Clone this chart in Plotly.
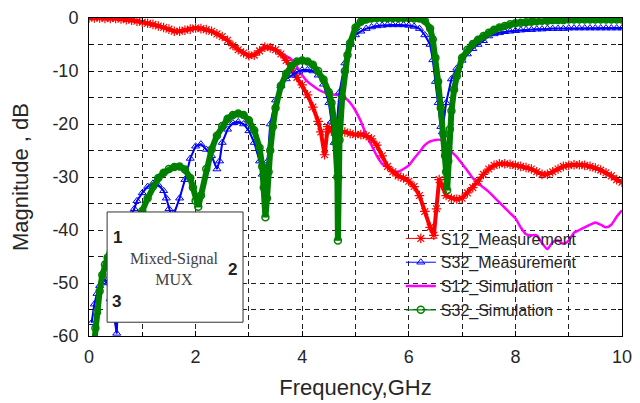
import plotly.graph_objects as go

# ---------------- data ----------------
s12_meas_f = [0.0, 0.1, 0.2, 0.3, 0.4, 0.5, 0.6, 0.7, 0.8, 0.9, 1.0, 1.1, 1.2, 1.3, 1.4, 1.5, 1.6, 1.7, 1.8, 1.9,
              2.0, 2.1, 2.2, 2.3, 2.4, 2.5, 2.6, 2.7, 2.8, 2.9, 3.0, 3.1, 3.2, 3.3, 3.4, 3.5, 3.6, 3.7, 3.8, 3.9,
              4.0, 4.1, 4.2, 4.3, 4.35, 4.42, 4.48, 4.55, 4.6, 4.7, 4.8, 4.9, 5.0, 5.1, 5.2, 5.3, 5.4, 5.5, 5.6,
              5.7, 5.8, 5.9, 6.0, 6.1, 6.2, 6.3, 6.4, 6.47, 6.52, 6.57, 6.62, 6.7, 6.8, 6.9, 7.0, 7.1, 7.2, 7.3,
              7.4, 7.5, 7.6, 7.7, 7.8, 7.9, 8.0, 8.1, 8.2, 8.3, 8.4, 8.5, 8.6, 8.7, 8.8, 8.9, 9.0, 9.1, 9.2, 9.3,
              9.4, 9.5, 9.6, 9.7, 9.8, 9.9, 10.0]
s12_meas_db = [0.0, 0.0, 0.0, -0.1, -0.1, -0.1, -0.2, -0.3, -0.4, -0.6, -0.8, -1.0, -1.2, -1.5, -1.8, -2.1, -2.5,
               -2.5, -2.3, -2.1, -1.9, -2.0, -2.2, -2.5, -3.0, -3.5, -4.2, -5.2, -6.0, -6.6, -7.1, -7.0, -6.2, -5.5,
               -5.6, -6.0, -6.8, -8.0, -9.6, -11.2, -12.6, -14.5, -16.8, -19.5, -21.5, -25.8, -20.5, -21.3, -21.5,
               -21.5, -21.5, -21.8, -22.0, -22.0, -22.2, -22.8, -24.0, -26.0, -28.0, -29.0, -29.8, -30.2, -30.8,
               -31.8, -33.5, -36.5, -39.5, -41.0, -36.0, -30.5, -31.5, -33.5, -34.0, -34.2, -34.0, -33.0, -32.0,
               -30.8, -29.5, -28.5, -27.8, -27.5, -27.5, -27.6, -27.8, -28.0, -28.2, -28.5, -29.0, -29.5, -29.5,
               -29.0, -28.5, -28.0, -27.8, -27.7, -27.7, -27.8, -28.0, -28.3, -28.7, -29.2, -29.8, -30.5, -31.0]

s32_meas_f = [0.05, 0.1, 0.15, 0.2, 0.25, 0.3, 0.35, 0.4, 0.45, 0.52, 0.56, 0.6, 0.7, 0.8, 0.85, 0.9, 1.0, 1.1,
              1.2, 1.3, 1.4, 1.45, 1.5, 1.55, 1.6, 1.7, 1.8, 1.9, 2.0, 2.1, 2.2, 2.3, 2.4, 2.45, 2.5, 2.6, 2.7,
              2.8, 2.9, 3.0, 3.1, 3.2, 3.25, 3.3, 3.35, 3.4, 3.5, 3.6, 3.7, 3.8, 3.9, 4.0, 4.1, 4.2, 4.3, 4.4,
              4.5, 4.55, 4.6, 4.65, 4.7, 4.8, 4.9, 5.0, 5.1, 5.2, 5.3, 5.4, 5.5, 5.6, 5.7, 5.8, 5.9, 6.0, 6.1,
              6.2, 6.3, 6.4, 6.45, 6.5, 6.55, 6.6, 6.63, 6.7, 6.8, 6.9, 7.0, 7.1, 7.2, 7.3, 7.4, 7.5, 7.6, 7.7,
              7.8, 7.9, 8.0, 8.1, 8.2, 8.3, 8.4, 8.5, 8.6, 8.7, 8.8, 8.9, 9.0, 9.1, 9.2, 9.3, 9.4, 9.5, 9.6,
              9.7, 9.8, 9.9, 10.0]
s32_meas_db = [-57.5, -54.0, -52.0, -50.5, -49.8, -49.3, -50.0, -53.0, -55.0, -59.5, -50.0, -44.0, -39.0, -37.0,
               -36.0, -34.5, -33.0, -31.8, -31.2, -31.5, -32.6, -34.0, -36.0, -37.5, -36.8, -34.0, -30.5, -26.5,
               -24.2, -23.8, -24.8, -26.0, -28.5, -27.0, -23.5, -21.0, -19.8, -19.6, -20.0, -21.3, -23.5, -27.0,
               -29.5, -32.0, -27.0, -20.0, -15.5, -12.8, -11.5, -10.8, -10.2, -9.8, -9.8, -10.0, -10.8, -12.5,
               -16.0, -19.5, -23.5, -20.0, -14.0, -8.5, -5.0, -3.2, -2.5, -2.0, -1.7, -1.5, -1.4, -1.3, -1.3,
               -1.3, -1.3, -1.4, -1.6, -2.0, -3.2, -5.0, -7.9, -12.0, -16.0, -20.5, -21.5, -16.0, -11.5, -9.5,
               -8.0, -6.8, -5.8, -5.0, -4.3, -3.4, -3.0, -2.8, -2.6, -2.5, -2.4, -2.3, -2.2, -2.2, -2.1, -2.1,
               -2.0, -2.0, -2.0, -2.0, -1.9, -1.9, -1.9, -1.9, -1.9, -1.9, -1.9, -1.9, -1.9, -1.9, -1.9]

s12_sim_f = [0.0, 0.2, 0.4, 0.6, 0.8, 1.0, 1.2, 1.4, 1.6, 1.8, 2.0, 2.2, 2.4, 2.6, 2.8, 3.0, 3.1, 3.2, 3.3, 3.4,
             3.5, 3.6, 3.7, 3.8, 3.9, 4.0, 4.1, 4.2, 4.3, 4.4, 4.5, 4.6, 4.7, 4.8, 4.9, 5.0, 5.1, 5.2, 5.3, 5.4,
             5.5, 5.6, 5.7, 5.8, 5.9, 6.0, 6.1, 6.2, 6.3, 6.4, 6.5, 6.6, 6.7, 6.8, 6.9, 7.0, 7.1, 7.2, 7.3, 7.4,
             7.5, 7.6, 7.7, 7.8, 7.9, 8.0, 8.1, 8.2, 8.3, 8.4, 8.5, 8.6, 8.7, 8.8, 8.9, 9.0, 9.1, 9.2, 9.3, 9.4,
             9.5, 9.6, 9.7, 9.8, 9.9, 10.0]
s12_sim_db = [0.0, 0.0, -0.1, -0.2, -0.4, -0.8, -1.2, -1.8, -2.5, -2.3, -1.9, -2.2, -3.0, -4.2, -6.0, -7.0, -6.9,
              -6.2, -5.6, -5.6, -6.0, -6.6, -7.2, -7.8, -9.2, -10.8, -12.0, -12.8, -13.5, -14.0, -14.3, -14.5,
              -14.6, -15.0, -16.0, -17.5, -19.5, -22.0, -24.0, -26.0, -27.5, -28.2, -28.8, -29.0, -28.5, -27.8,
              -26.5, -25.3, -24.0, -23.3, -23.0, -23.0, -23.8, -25.2, -26.2, -27.5, -28.8, -30.2, -31.2, -32.0,
              -32.8, -33.8, -34.8, -35.8, -36.8, -37.8, -39.5, -40.8, -41.0, -41.0, -42.5, -43.6, -42.3, -42.0,
              -42.6, -42.0, -40.5, -40.0, -39.5, -39.0, -38.6, -39.0, -39.5, -39.0, -37.5, -36.3]

s32_sim_f = [0.09, 0.12, 0.15, 0.2, 0.25, 0.3, 0.35, 0.4, 0.5, 0.6, 0.7, 0.8, 0.9, 1.0, 1.1, 1.2, 1.3, 1.4, 1.5,
             1.6, 1.7, 1.8, 1.9, 1.95, 2.0, 2.05, 2.1, 2.2, 2.3, 2.4, 2.5, 2.6, 2.7, 2.8, 2.9, 3.0, 3.1, 3.2,
             3.25, 3.28, 3.31, 3.34, 3.37, 3.4, 3.45, 3.5, 3.6, 3.7, 3.8, 3.9, 4.0, 4.1, 4.2, 4.3, 4.4, 4.5,
             4.55, 4.6, 4.63, 4.66, 4.67, 4.68, 4.7, 4.75, 4.8, 4.85, 4.9, 5.0, 5.1, 5.2, 5.3, 5.4, 5.5, 5.6,
             5.7, 5.8, 5.9, 6.0, 6.1, 6.2, 6.3, 6.4, 6.45, 6.5, 6.55, 6.6, 6.65, 6.68, 6.7, 6.72, 6.74, 6.77,
             6.8, 6.85, 6.9, 7.0, 7.1, 7.2, 7.3, 7.4, 7.5, 7.6, 7.7, 7.8, 7.9, 8.0, 8.1, 8.2, 8.3, 8.4, 8.5,
             8.6, 8.7, 8.8, 8.9, 9.0, 9.1, 9.2, 9.3, 9.4, 9.5, 9.6, 9.7, 9.8, 9.9, 10.0]
s32_sim_db = [-62.0, -58.5, -55.5, -51.5, -48.5, -46.5, -45.2, -44.5, -42.8, -41.3, -40.0, -38.8, -37.6, -36.4,
              -34.0, -31.8, -30.2, -29.2, -28.5, -28.1, -28.0, -28.6, -30.2, -32.0, -34.5, -35.6, -33.5, -28.5,
              -24.8, -22.2, -20.4, -19.0, -18.3, -18.0, -18.3, -19.3, -21.2, -24.5, -28.0, -32.0, -37.6, -34.0,
              -29.0, -25.0, -20.5, -17.0, -12.8, -10.5, -9.0, -8.2, -8.0, -8.2, -8.8, -10.0, -11.6, -14.0, -16.0,
              -19.5, -23.5, -30.0, -42.0, -30.0, -23.0, -15.0, -10.0, -7.0, -4.7, -1.8, -0.7, -0.3, -0.1, 0.0,
              0.0, 0.0, 0.0, 0.0, 0.0, 0.0, -0.1, -0.1, -0.5, -2.0, -4.0, -7.5, -12.0, -17.0, -22.0, -26.0,
              -29.0, -32.5, -27.0, -21.0, -17.5, -13.5, -11.0, -7.5, -6.0, -4.9, -4.1, -3.4, -2.8, -2.2, -1.8,
              -1.5, -1.2, -1.0, -0.9, -0.8, -0.7, -0.6, -0.5, -0.5, -0.4, -0.4, -0.4, -0.3, -0.3, -0.3, -0.3,
              -0.3, -0.3, -0.3, -0.3, -0.3, -0.3, -0.3]

series_names = ["S12_Measurement", "S32_Measurement", "S12_Simulation", "S32_Simulation"]
x_tick_vals = [0, 2, 4, 6, 8, 10]
x_tick_text = ["0", "2", "4", "6", "8", "10"]
y_tick_vals = [0, -10, -20, -30, -40, -50, -60]
y_tick_text = ["0", "-10", "-20", "-30", "-40", "-50", "-60"]

RED, BLUE, MAGENTA, GREEN = "#ff0000", "#0000ff", "#ff00ff", "#008000"

# ---------------- figure ----------------
fig = go.Figure()

fig.add_trace(go.Scatter(
    x=s12_sim_f, y=s12_sim_db, name=series_names[2], mode="lines", legendrank=3,
    line=dict(color=MAGENTA, width=2.5, shape="spline", smoothing=0.6)))

# dense-marker band look for the measured S12 curve
fig.add_trace(go.Scatter(
    x=s12_meas_f, y=s12_meas_db, mode="lines", showlegend=False, hoverinfo="skip",
    line=dict(color=RED, width=4)))
fig.add_trace(go.Scatter(
    x=s12_meas_f, y=s12_meas_db, name=series_names[0], mode="lines+markers", legendrank=1,
    line=dict(color=RED, width=1),
    marker=dict(symbol="asterisk-open", size=8, color=RED, line=dict(color=RED, width=1.2))))

fig.add_trace(go.Scatter(
    x=s32_meas_f, y=s32_meas_db, mode="lines", showlegend=False, hoverinfo="skip",
    line=dict(color=BLUE, width=2)))
fig.add_trace(go.Scatter(
    x=s32_meas_f, y=s32_meas_db, name=series_names[1], mode="lines+markers", legendrank=2,
    line=dict(color=BLUE, width=1),
    marker=dict(symbol="triangle-up-open", size=7, color=BLUE, line=dict(color=BLUE, width=1))))

fig.add_trace(go.Scatter(
    x=s32_sim_f, y=s32_sim_db, mode="lines", showlegend=False, hoverinfo="skip",
    line=dict(color=GREEN, width=6)))
fig.add_trace(go.Scatter(
    x=s32_sim_f, y=s32_sim_db, name=series_names[3], mode="lines+markers", legendrank=4,
    line=dict(color=GREEN, width=1.2),
    marker=dict(symbol="circle-open", size=7, color=GREEN, line=dict(color=GREEN, width=1.5))))

grid = dict(gridcolor="#222222", gridwidth=1, griddash="5px,4px")
axis_common = dict(
    showline=True, linecolor="black", linewidth=1, mirror="ticks",
    ticks="inside", ticklen=5, tickcolor="black",
    showgrid=True, zeroline=False, automargin=False,
    tickfont=dict(family="Liberation Sans, Arial", size=18, color="#262626"),
    **grid,
)

fig.update_xaxes(
    range=[0, 10], tickvals=x_tick_vals, ticktext=x_tick_text, ticklabelstandoff=4,
    minor=dict(dtick=1, tick0=0, showgrid=True, ticks="inside", ticklen=4, tickcolor="black", **grid),
    title=dict(text="Frequency,GHz", font=dict(family="Liberation Sans, Arial", size=22, color="#262626"),
               standoff=14),
    **axis_common)
fig.update_yaxes(
    range=[-60, 0], tickvals=y_tick_vals, ticktext=y_tick_text, ticklabelstandoff=6,
    minor=dict(dtick=5, tick0=0, showgrid=True, ticks="inside", ticklen=4, tickcolor="black", **grid),
    title=dict(text="Magnitude , dB", font=dict(family="Liberation Sans, Arial", size=22, color="#262626"),
               standoff=22),
    **axis_common)

# inset block diagram box
fig.add_shape(type="rect", xref="x", yref="y", x0=0.34, x1=2.89, y0=-57.4, y1=-36.6,
              fillcolor="white", line=dict(color="#333333", width=1), layer="above")
num_font = dict(family="Liberation Sans, Arial", size=17, color="#222222")
fig.add_annotation(x=0.53, y=-41.5, text="<b>1</b>", showarrow=False, font=num_font)
fig.add_annotation(x=0.51, y=-53.4, text="<b>3</b>", showarrow=False, font=num_font)
fig.add_annotation(x=2.70, y=-47.4, text="<b>2</b>", showarrow=False, font=num_font)
fig.add_annotation(x=1.61, y=-47.3, text="Mixed-Signal<br>MUX", showarrow=False,
                   font=dict(family="Liberation Serif, Times New Roman", size=16, color="#404040"))

# the page body adds an 8px offset, so the figure is 632x395 with matching margins
fig.update_layout(
    width=632, height=395,
    margin=dict(l=81, r=18, t=10, b=67),
    paper_bgcolor="white", plot_bgcolor="white",
    showlegend=True,
    legend=dict(x=0.585, y=0.36, xanchor="left", yanchor="top", bgcolor="rgba(0,0,0,0)",
                font=dict(family="Liberation Sans, Arial", size=16, color="#262626"),
                tracegroupgap=0, itemwidth=30),
)

fig.write_html("out.html")
